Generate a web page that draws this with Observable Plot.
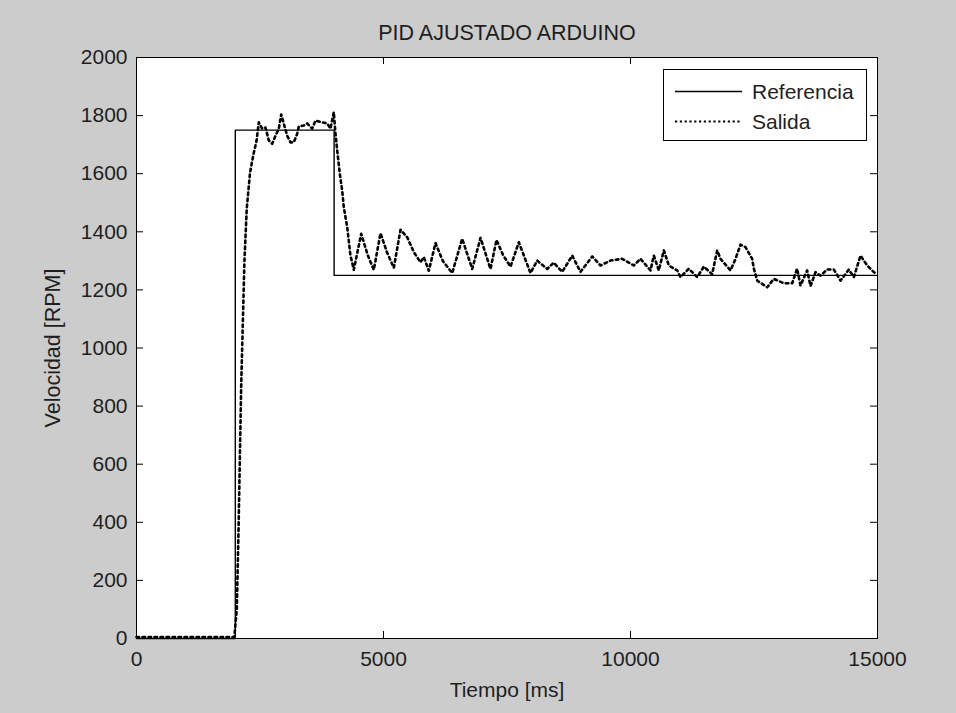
<!DOCTYPE html>
<html>
<head>
<meta charset="utf-8">
<script src="https://cdn.jsdelivr.net/npm/d3@7"></script>
<script src="https://cdn.jsdelivr.net/npm/@observablehq/plot@0.6"></script>
<style>
  html, body { margin: 0; padding: 0; background: #cccccc; }
  #wrap { position: relative; width: 956px; height: 713px; }
  #legend { position: absolute; left: 663px; top: 69px; }
</style>
</head>
<body>
<div id="wrap"></div>
<script>
// ---- data ----
const titleText = "PID AJUSTADO ARDUINO";
const xLabel = "Tiempo [ms]";
const yLabel = "Velocidad [RPM]";
const seriesNames = ["Referencia", "Salida"];

const xTicks = [0, 5000, 10000, 15000];
const yTicks = [0, 200, 400, 600, 800, 1000, 1200, 1400, 1600, 1800, 2000];

const refTime = [0, 2000, 2000, 4000, 4000, 15000];
const refRpm  = [0, 0, 1750, 1750, 1250, 1250];

const salTime = [
  0, 1980, 2030, 2066, 2119, 2185, 2232, 2298, 2364, 2430, 2476, 2544, 2611, 2679, 2747,
  2814, 2881, 2929, 2982, 3050, 3117, 3184, 3252, 3286, 3387, 3455, 3556, 3623, 3725, 3860,
  3927, 3994, 4028, 4063, 4115, 4164, 4196, 4265, 4330, 4399, 4549, 4680, 4804, 4939, 5070,
  5209, 5344, 5480, 5614, 5749, 5816, 5917, 6053, 6200, 6391, 6593, 6796, 6964, 7166, 7287,
  7420, 7571, 7739, 7976, 8111, 8314, 8447, 8617, 8820, 8988, 9225, 9393, 9595, 9832, 10067,
  10202, 10405, 10472, 10573, 10675, 10776, 10945, 11012, 11180, 11350, 11484, 11653, 11755, 11822, 12024,
  12126, 12227, 12328, 12463, 12497, 12565, 12767, 12901, 13103, 13272, 13373, 13441, 13576, 13644, 13745,
  13846, 13981, 14116, 14251, 14419, 14521, 14656, 14791, 14926, 15000
];
const salRpm = [
  5, 5, 100, 379, 869, 1300, 1481, 1603, 1664, 1713, 1777, 1755, 1759, 1714, 1703,
  1731, 1755, 1804, 1772, 1731, 1708, 1708, 1737, 1763, 1766, 1773, 1755, 1783, 1778, 1773,
  1755, 1812, 1738, 1680, 1600, 1542, 1485, 1416, 1320, 1269, 1393, 1320, 1269, 1395, 1330,
  1276, 1407, 1381, 1330, 1295, 1313, 1266, 1361, 1300, 1258, 1376, 1272, 1379, 1272, 1372,
  1320, 1280, 1364, 1258, 1301, 1272, 1294, 1262, 1318, 1262, 1315, 1284, 1301, 1307, 1284,
  1307, 1267, 1318, 1267, 1336, 1284, 1267, 1244, 1273, 1244, 1280, 1254, 1336, 1307, 1267,
  1307, 1356, 1347, 1307, 1273, 1232, 1209, 1238, 1223, 1223, 1273, 1215, 1267, 1213, 1261,
  1249, 1270, 1270, 1232, 1270, 1244, 1318, 1284, 1261, 1255
];

// ---- build tables ----
const refData = refTime.map((t, i) => ({t, v: refRpm[i]}));
const salData = salTime.map((t, i) => ({t, v: salRpm[i]}));

const FONT = "'Liberation Sans', Arial, Helvetica, sans-serif";
const INK = "#1e1e1e";
const W = 956, H = 713, ML = 136, MR = 79, MT = 57, MB = 75;
const PW = W - ML - MR, PH = H - MT - MB, TICK = 7;
const salStyle = {stroke: "black", strokeWidth: 2.6, strokeDasharray: "2.6,3.4"};
const refStyle = {stroke: "black", strokeWidth: 1.4};

const chart = Plot.plot({
  width: W, height: H,
  marginLeft: ML, marginRight: MR, marginTop: MT, marginBottom: MB,
  style: {background: "#cccccc", fontFamily: FONT, fontSize: "21px", color: INK},
  x: {domain: [0, 15000]},
  y: {domain: [0, 2000]},
  marks: [
    Plot.frame({fill: "white", stroke: null}),
    Plot.line(refData, {x: "t", y: "v", ...refStyle}),
    Plot.line(salData, {x: "t", y: "v", ...salStyle}),
    Plot.frame({stroke: "black", strokeWidth: 1}),
    Plot.tickX(xTicks, {x: d => d, insetTop: PH - TICK, stroke: "black"}),
    Plot.tickX(xTicks, {x: d => d, insetBottom: PH - TICK, stroke: "black"}),
    Plot.tickY(yTicks, {y: d => d, insetRight: PW - TICK, stroke: "black"}),
    Plot.tickY(yTicks, {y: d => d, insetLeft: PW - TICK, stroke: "black"}),
    Plot.axisX({ticks: xTicks, tickSize: 0, tickPadding: 13, label: null, tickFormat: d => String(d), fill: INK}),
    Plot.axisY({ticks: yTicks, tickSize: 0, tickPadding: 9, label: null, tickFormat: d => String(d), fill: INK}),
    Plot.text([titleText], {frameAnchor: "top", dy: -24, lineAnchor: "middle", textAnchor: "middle", text: d => d, fontSize: 21.5, fill: INK}),
    Plot.text([xLabel], {frameAnchor: "bottom", dy: 52, lineAnchor: "middle", textAnchor: "middle", text: d => d, fontSize: 21, fill: INK}),
    Plot.text([yLabel], {frameAnchor: "left", dx: -83, rotate: -90, lineAnchor: "middle", textAnchor: "middle", text: d => d, fontSize: 21.5, fill: INK})
  ]
});

const wrap = document.getElementById("wrap");
wrap.appendChild(chart);

// ---- legend ----
const LW = 204, LH = 72;
const leg = d3.select(wrap).append("svg")
  .attr("id", "legend").attr("width", LW).attr("height", LH);
leg.append("rect").attr("x", 0.5).attr("y", 0.5).attr("width", LW - 1).attr("height", LH - 1)
  .attr("fill", "white").attr("stroke", "black");
const styles = [refStyle, {...salStyle, strokeWidth: 2.2, strokeDasharray: "2.2,2.6"}];
seriesNames.forEach((name, i) => {
  const cy = 22.5 + i * 30;
  const s = styles[i];
  leg.append("line").attr("x1", 12).attr("x2", 79).attr("y1", cy).attr("y2", cy)
    .attr("stroke", s.stroke).attr("stroke-width", s.strokeWidth)
    .attr("stroke-dasharray", s.strokeDasharray || null);
  leg.append("text").attr("x", 89).attr("y", cy).attr("dy", "0.35em")
    .attr("font-family", FONT).attr("font-size", 21).attr("fill", INK).text(name);
});
</script>
</body>
</html>
